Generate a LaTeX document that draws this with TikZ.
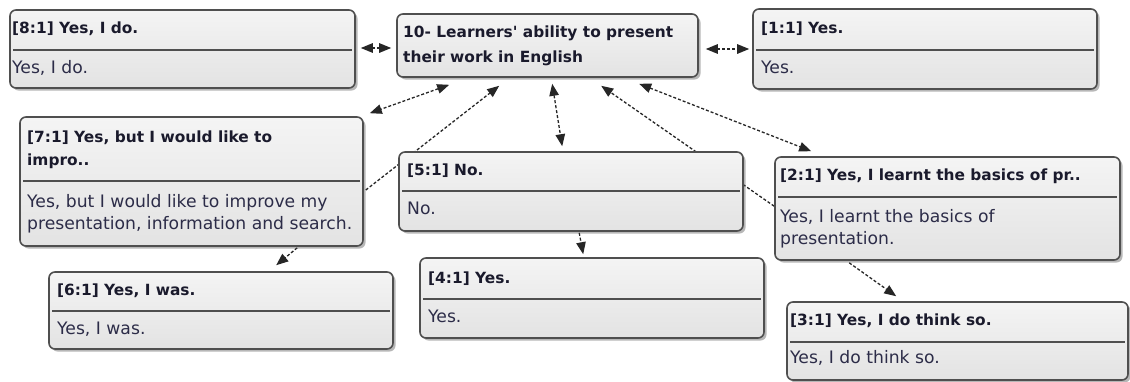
\documentclass[tikz,border=0pt]{standalone}
\usepackage{fontspec}
\setmainfont{DejaVu Sans}[Ligatures=TeXOff]
\usetikzlibrary{arrows.meta,shadows,calc}
\pgfdeclarelayer{bg}
\pgfsetlayers{bg,main}
\definecolor{bordc}{HTML}{4F4F4F}
\definecolor{boxtop}{HTML}{F4F4F4}
\definecolor{boxbot}{HTML}{E3E3E3}
\definecolor{titlec}{HTML}{1A1A2C}
\definecolor{bodyc}{HTML}{2C2C48}
\tikzset{
 qbox/.style={draw=bordc, line width=1.6pt, rounded corners=6pt, top color=boxtop, bottom color=boxbot,
   drop shadow={shadow xshift=2.5pt, shadow yshift=-2.5pt, opacity=0.4, fill=black!70}, inner sep=0pt},
 sepline/.style={draw=bordc, line width=1.6pt},
 ttl/.style={font=\fontsize{15.4}{18}\selectfont\bfseries, text=titlec, inner sep=0pt, anchor=base west},
 bdy/.style={font=\fontsize{17.2}{20}\selectfont, text=bodyc, inner sep=0pt, anchor=base west},
 conn/.style={line width=1.3pt, dash pattern=on 3pt off 2pt, draw=black!85},
 tip/.style={-{Triangle[length=12pt,width=9.5pt]}},
 tips/.style={{Triangle[length=12pt,width=9.5pt]}-{Triangle[length=12pt,width=9.5pt]}},
}
\begin{document}
\begin{tikzpicture}[x=1pt,y=-1pt]
\begin{pgfonlayer}{bg}
\fill[white] (0,0) rectangle (1130,381);
\end{pgfonlayer}
\useasboundingbox (0,0) rectangle (1130,381);

% boxes
\node[qbox, minimum width=345pt, minimum height=78pt] (b8) at (182.5,49) {};
\draw[sepline] (13,50) -- (352,50);
\node[ttl] (b8t) at (12,33) {[8:1] Yes, I do.};
\node[bdy] (b8b) at (12,73) {Yes, I do.};

\node[qbox, minimum width=301pt, minimum height=63pt] (b10) at (547.5,45.5) {};
\node[ttl] (b10t1) at (403,37) {10- Learners' ability to present};
\node[ttl] (b10t2) at (403,62) {their work in English};

\node[qbox, minimum width=344pt, minimum height=80pt] (b1) at (925,49) {};
\draw[sepline] (756,50) -- (1094,50);
\node[ttl] (b1t) at (761,33) {[1:1] Yes.};
\node[bdy] (b1b) at (761,73) {Yes.};

\node[qbox, minimum width=343pt, minimum height=129pt] (b7) at (191.5,181.5) {};
\draw[sepline] (23,181) -- (360,181);
\node[ttl] (b7t1) at (27,142) {[7:1] Yes, but I would like to};
\node[ttl] (b7t2) at (27,165) {impro..};
\node[bdy] (b7b1) at (27,207) {Yes, but I would like to improve my};
\node[bdy] (b7b2) at (27,229) {presentation, information and search.};

\node[qbox, minimum width=344pt, minimum height=77pt] (b6) at (221,310.5) {};
\draw[sepline] (52,311) -- (390,311);
\node[ttl] (b6t) at (57,295) {[6:1] Yes, I was.};
\node[bdy] (b6b) at (57,334) {Yes, I was.};

\node[qbox, minimum width=344pt, minimum height=79pt] (b5) at (571,191.5) {};
\draw[sepline] (402,191) -- (740,191);
\node[ttl] (b5t) at (407,175) {[5:1] No.};
\node[bdy] (b5b) at (407,214) {No.};

\node[qbox, minimum width=344pt, minimum height=80pt] (b4) at (592,298) {};
\draw[sepline] (423,299) -- (761,299);
\node[ttl] (b4t) at (428,283) {[4:1] Yes.};
\node[bdy] (b4b) at (428,322) {Yes.};

\node[qbox, minimum width=345pt, minimum height=103pt] (b2) at (947.5,208.5) {};
\draw[sepline] (778,197) -- (1117,197);
\node[ttl] (b2t) at (780,180) {[2:1] Yes, I learnt the basics of pr..};
\node[bdy] (b2b1) at (780,222) {Yes, I learnt the basics of};
\node[bdy] (b2b2) at (780,244) {presentation.};

\node[qbox, minimum width=341pt, minimum height=78pt] (b3) at (957.5,341) {};
\draw[sepline] (790,342) -- (1125,342);
\node[ttl] (b3t) at (790,325) {[3:1] Yes, I do think so.};
\node[bdy] (b3b) at (790,363) {Yes, I do think so.};

% connectors
\begin{pgfonlayer}{bg}
\draw[conn,tips] ($(b8.east)+(5,-1)$) -- ($(b10.west)+(-5,2.5)$);
\draw[conn,tips] ($(b10.east)+(7,3.5)$) -- ($(b1.west)+(-3,0)$);
\draw[conn,tips] ($(b10.south west)+(53,7)$) -- ($(b7.north east)+(6,-3)$);
\draw[conn,tip] ($(b7.east)+(2,8.5)$) -- ($(b10.south west)+(103,8)$);
\draw[conn,tips] ($(b10.south west)+(156,6)$) -- ($(b5.north west)+(164,-5)$);
\draw[conn,tip] ($(b2.north west)+(0,50)$) -- ($(b10.south west)+(205,8)$);
\draw[conn,tips] ($(b10.south west)+(243,6)$) -- ($(b2.north west)+(37,-5)$);
\draw[conn,tip] ($(b7.south west)+(278,1)$) -- ($(b6.north west)+(228,-6)$);
\draw[conn,tip] ($(b5.south west)+(181,1)$) -- ($(b4.north west)+(164,-3)$);
\draw[conn,tip] ($(b2.south west)+(75,2)$) -- ($(b3.north west)+(110,-5)$);
\end{pgfonlayer}
\end{tikzpicture}
\end{document}
